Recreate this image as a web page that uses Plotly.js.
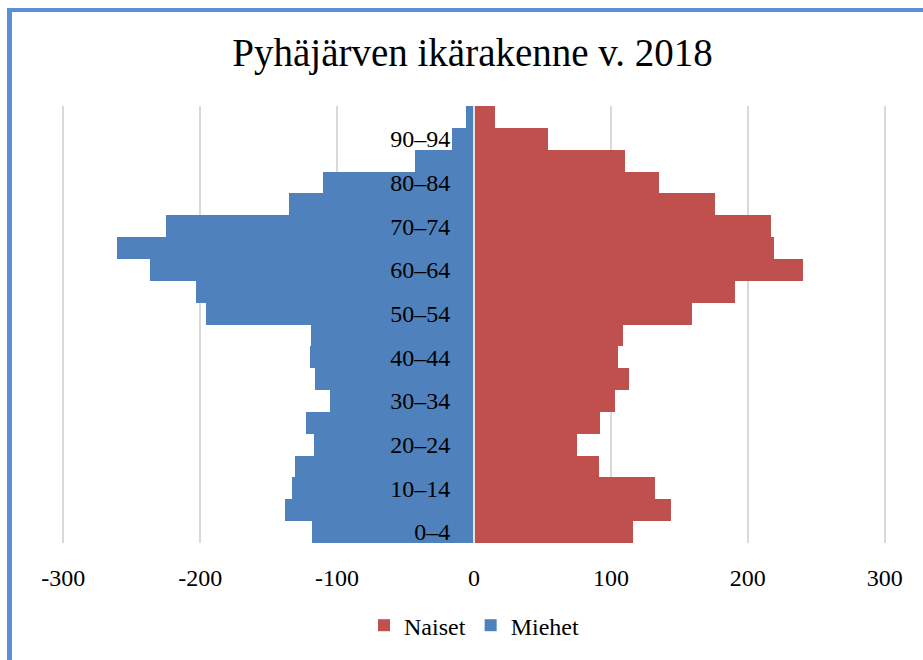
<!DOCTYPE html>
<html>
<head>
<meta charset="utf-8">
<script src="https://cdn.plot.ly/plotly-3.0.1.min.js"></script>
<style>
  html, body { margin: 0; padding: 0; background: #fff; overflow: hidden; }
  #chart { width: 923px; height: 660px; }
  #frame { position: absolute; left: 7px; top: 8px; width: 1000px; height: 1000px;
           border-left: 5px solid #5b8fd6; border-top: 4px solid #5b8fd6; pointer-events: none; }
</style>
</head>
<body>
<div id="chart"></div>
<div id="frame"></div>
<script>
const ageGroups = ["0–4","5–9","10–14","15–19","20–24","25–29","30–34","35–39","40–44","45–49",
                   "50–54","55–59","60–64","65–69","70–74","75–79","80–84","85–89","90–94","95+"];
const naiset = [116,144,132,91,75,92,103,113,105,109,159,191,240,219,217,176,135,110,54,15];
const miehet = [118,138,133,131,117,123,105,116,120,119,196,203,237,261,225,135,110,43,16,6];
const shownLabels = ["0–4","10–14","20–24","30–34","40–44","50–54","60–64","70–74","80–84","90–94"];
const xTicks = [-300,-200,-100,0,100,200,300];

const FONT = "'Liberation Serif', 'DejaVu Serif', serif";

const traces = [
  { type: "bar", orientation: "h", name: "Naiset", y: ageGroups, x: naiset,
    marker: { color: "#C0504D", line: { width: 0 } }, hoverinfo: "y+x" },
  { type: "bar", orientation: "h", name: "Miehet", y: ageGroups, x: miehet.map(v => -v),
    customdata: miehet, hovertemplate: "%{y}: %{customdata}<extra>Miehet</extra>",
    marker: { color: "#4F81BD", line: { width: 0 } } }
];

const layout = {
  width: 923, height: 660,
  margin: { l: 62, r: 37, t: 106, b: 114 },
  paper_bgcolor: "#fff", plot_bgcolor: "#fff",
  barmode: "relative", bargap: 0,
  font: { family: FONT, color: "#000", size: 24 },
  title: { text: "Pyhäjärven ikärakenne v. 2018", font: { family: FONT, size: 39, color: "#000" },
           x: 0.512, xanchor: "center", y: 0.921, yanchor: "middle" },
  xaxis: {
    range: [-301, 301], tickvals: xTicks, ticktext: xTicks.map(String),
    showgrid: true, gridcolor: "#d9d9d9", gridwidth: 2, zeroline: false,
    ticks: "outside", ticklen: 13, tickcolor: "rgba(0,0,0,0)",
    tickfont: { family: FONT, size: 24, color: "#000" }, fixedrange: true
  },
  yaxis: {
    type: "category", categoryorder: "array", categoryarray: ageGroups,
    range: [-0.5, 19.5], anchor: "free", position: 0.5,
    tickvals: shownLabels, ticktext: shownLabels,
    ticks: "outside", ticklen: 18, tickcolor: "rgba(0,0,0,0)",
    showline: true, linecolor: "#e3e3e3", linewidth: 2,
    showgrid: false, zeroline: false,
    tickfont: { family: FONT, size: 24, color: "#000" }, fixedrange: true
  },
  legend: { orientation: "h", x: 0.5, xanchor: "center", y: -0.189, yanchor: "middle",
            traceorder: "normal", font: { family: FONT, size: 24, color: "#000" },
            itemwidth: 30, tracegroupgap: 0 },
  showlegend: true
};

Plotly.newPlot("chart", traces, layout, { displayModeBar: false, staticPlot: true });
</script>
</body>
</html>
